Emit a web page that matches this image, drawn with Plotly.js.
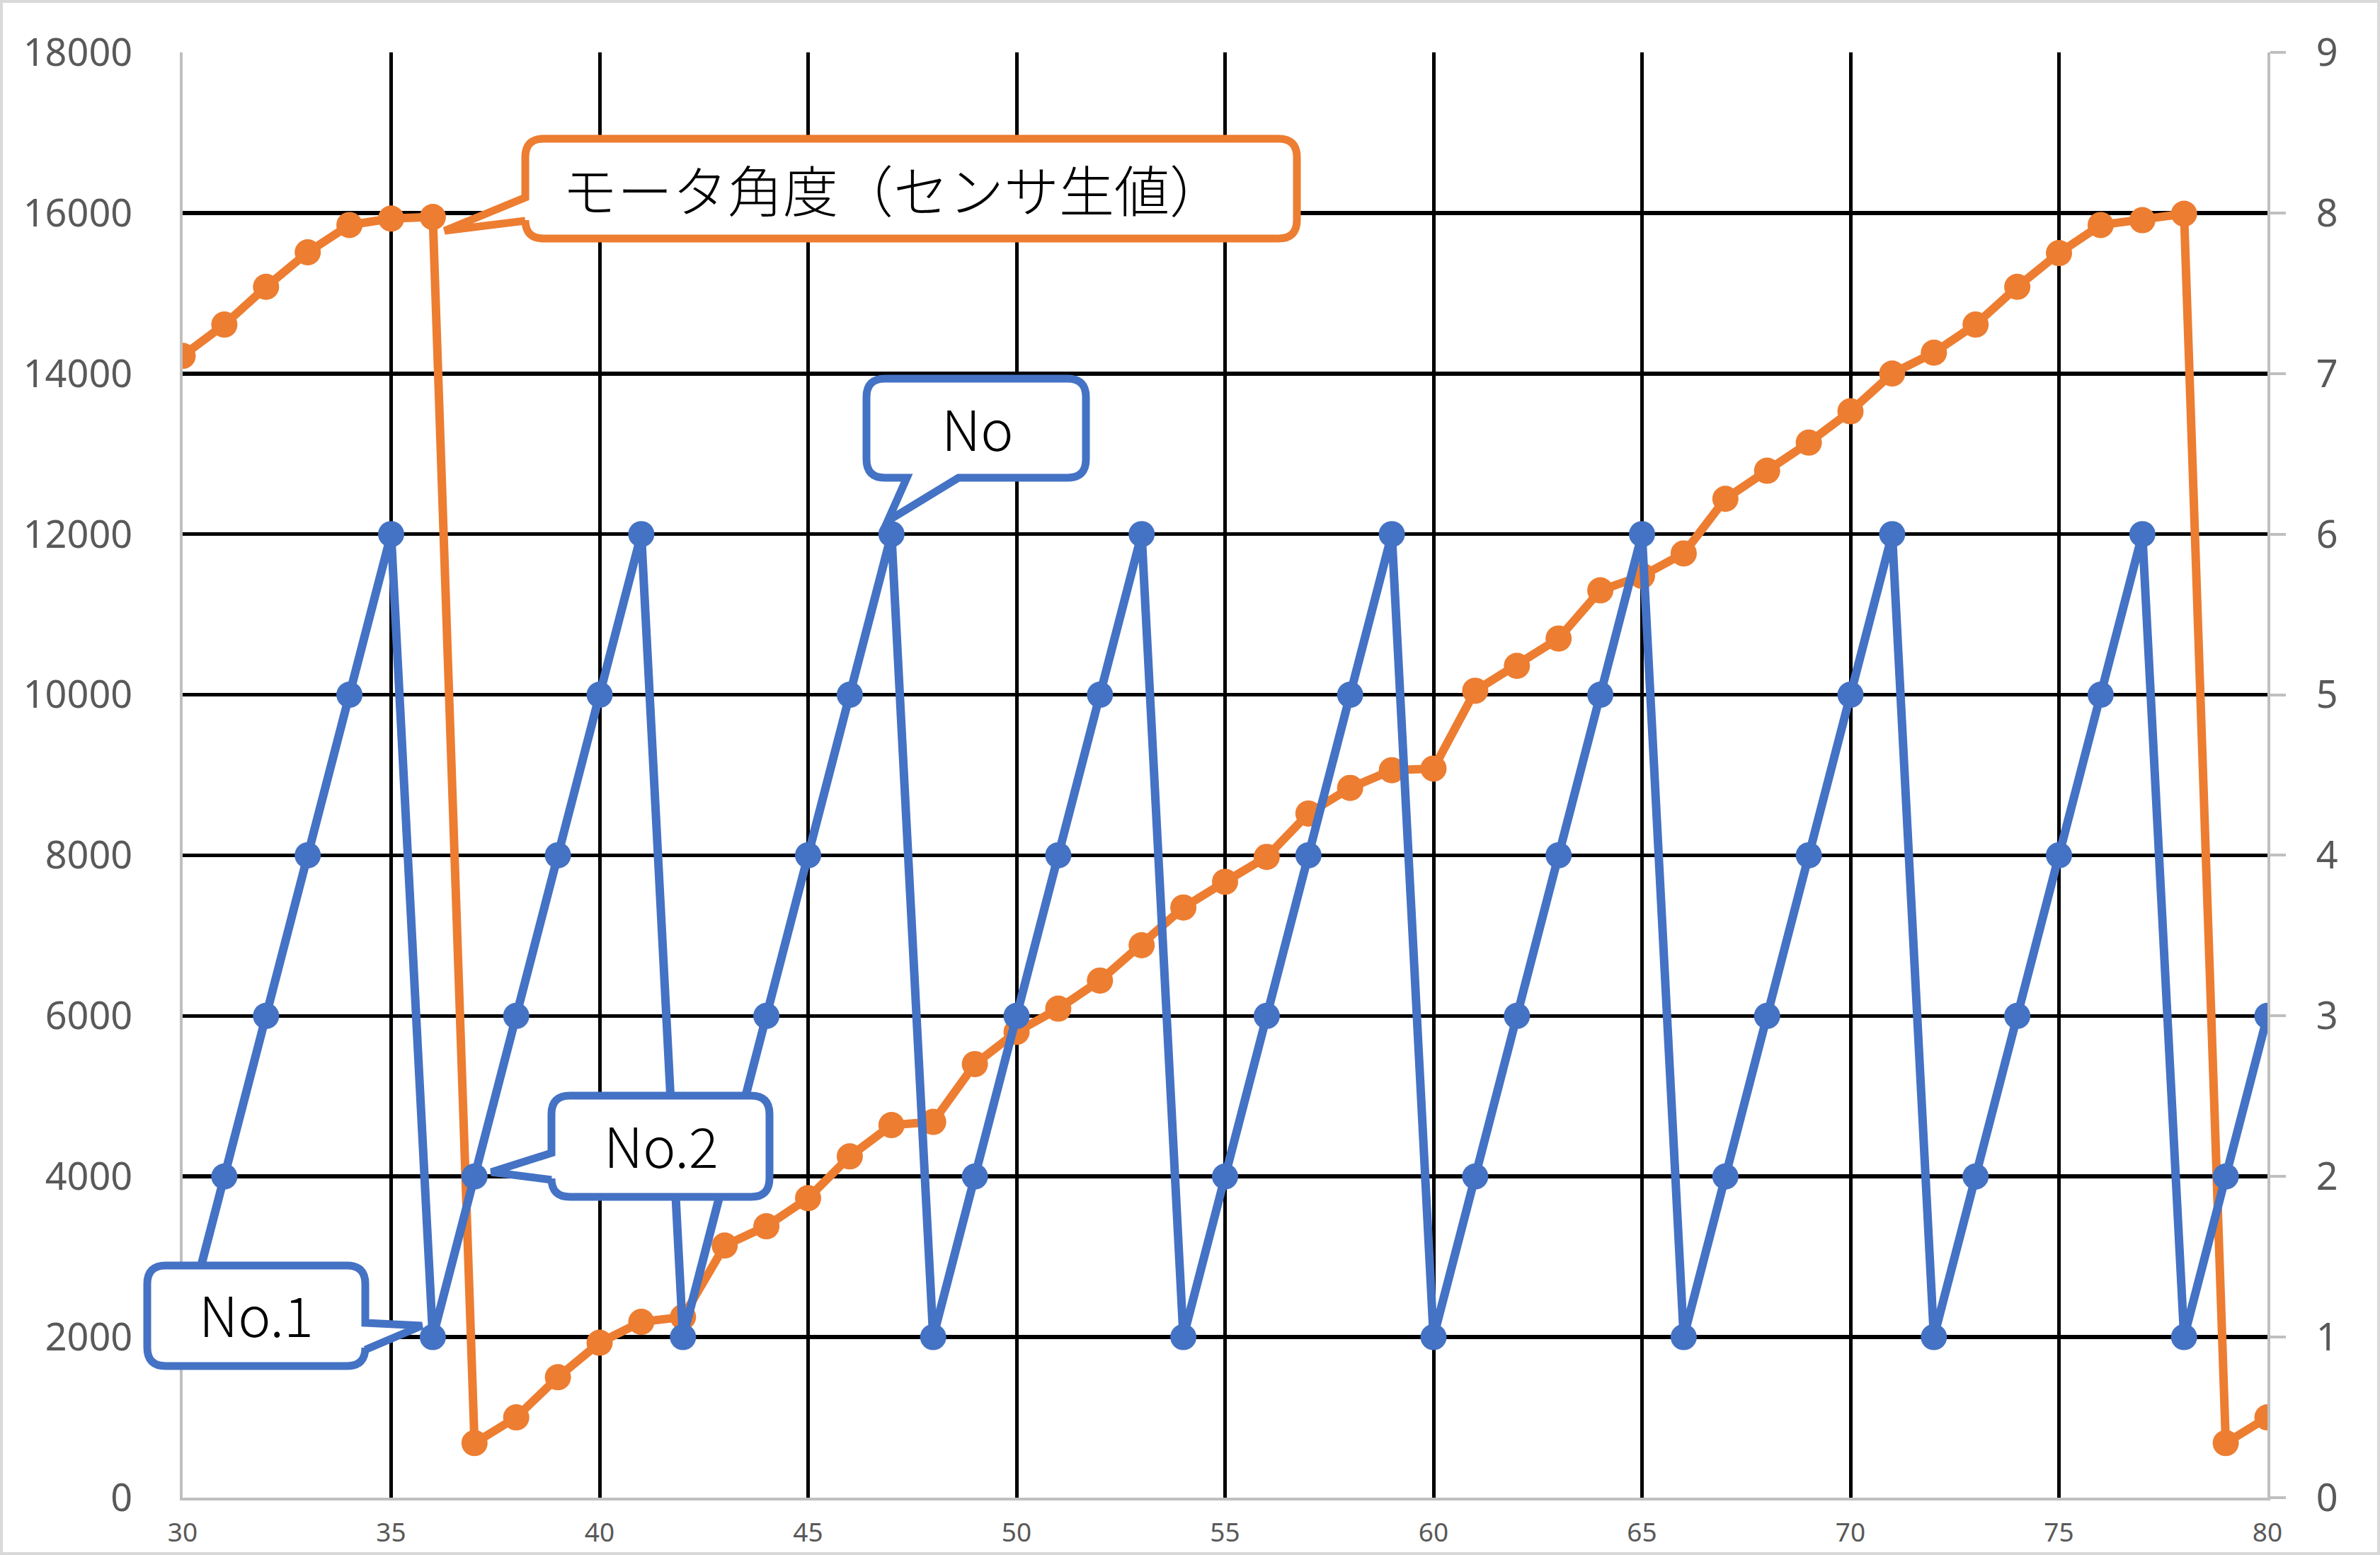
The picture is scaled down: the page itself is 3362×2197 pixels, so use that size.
<!DOCTYPE html>
<html>
<head>
<meta charset="utf-8">
<script src="https://cdn.plot.ly/plotly-3.0.1.min.js"></script>
<style>
  html, body { margin: 0; padding: 0; background: #ffffff; }
  #chart { width: 3362px; height: 2197px; }
</style>
</head>
<body>
<div id="chart"></div>
<script>
// ---------- data ----------
const xValues = [30,31,32,33,34,35,36,37,38,39,40,41,42,43,44,45,46,47,48,49,50,51,52,53,54,55,56,57,58,59,60,61,62,63,64,65,66,67,68,69,70,71,72,73,74,75,76,77,78,79,80];
const motorAngle = [14220,14610,15080,15510,15850,15930,15950,
  680,1000,1500,1930,2190,2250,3140,3380,3730,4250,
  4640,4680,5400,5800,6090,6440,6880,7350,7670,7980,
  8520,8840,9060,9080,10050,10360,10700,11300,11480,11760,
  12440,12790,13140,13530,14000,14260,14610,15080,15500,15850,
  15910,15990,680,1000];
const noValues = [1,2,3,4,5,6, 1,2,3,4,5,6, 1,2,3,4,5,6, 1,2,3,4,5,6,
  1,2,3,4,5,6, 1,2,3,4,5,6, 1,2,3,4,5,6, 1,2,3,4,5,6, 1,2,3];
const leftTicks = [0,2000,4000,6000,8000,10000,12000,14000,16000,18000];
const rightTicks = [0,1,2,3,4,5,6,7,8,9];
const xTicks = [30,35,40,45,50,55,60,65,70,75,80];
const labelMotor = 'モータ角度（センサ生値）';
const labelNo = 'No';
const labelNo1 = 'No.1';
const labelNo2 = 'No.2';

// ---------- layout geometry (pixels) ----------
const W = 3362, H = 2197;
const M = { l: 258, r: 159, t: 74, b: 81 };
const PW = W - M.l - M.r, PH = H - M.t - M.b;
const px = x => (x - M.l) / PW;
const py = y => (H - M.b - y) / PH;

function callout(x0, y0, x1, y1, r, tail) {
  const pts = [];
  const cmd = (c, ...xy) => {
    let s = c;
    for (let i = 0; i < xy.length; i += 2) s += (i ? ' ' : '') + px(xy[i]).toFixed(5) + ',' + py(xy[i + 1]).toFixed(5);
    pts.push(s);
  };
  cmd('M', x0 + r, y0);
  cmd('L', x1 - r, y0);
  cmd('Q', x1, y0, x1, y0 + r);
  if (tail.side === 'right') { cmd('L', x1, tail.a); cmd('L', tail.tip[0], tail.tip[1]); cmd('L', x1, tail.b); }
  cmd('L', x1, y1 - r);
  cmd('Q', x1, y1, x1 - r, y1);
  if (tail.side === 'bottom') { cmd('L', tail.b, y1); cmd('L', tail.tip[0], tail.tip[1]); cmd('L', tail.a, y1); }
  cmd('L', x0 + r, y1);
  cmd('Q', x0, y1, x0, y1 - r);
  if (tail.side === 'left') { cmd('L', x0, tail.b); cmd('L', tail.tip[0], tail.tip[1]); cmd('L', x0, tail.a); }
  cmd('L', x0, y0 + r);
  cmd('Q', x0, y0, x0 + r, y0);
  pts.push('Z');
  return pts.join(' ');
}

const ORANGE = '#ED7D31', BLUE = '#4472C4';
const callouts = [
  { box: [742, 196, 1832, 337], color: ORANGE, tail: { side: 'left', a: 279, b: 312, tip: [628, 326] }, text: labelMotor, tx: 1262, ty: 266 },
  { box: [1224, 535, 1534, 675], color: BLUE, tail: { side: 'bottom', a: 1281, b: 1354, tip: [1254, 736] }, text: labelNo, tx: 1380, ty: 603 },
  { box: [779, 1548, 1087, 1691], color: BLUE, tail: { side: 'left', a: 1629, b: 1667, tip: [694, 1656] }, text: labelNo2, tx: 934, ty: 1616 },
  { box: [208, 1788, 516, 1930], color: BLUE, tail: { side: 'right', a: 1869, b: 1907, tip: [596, 1873] }, text: labelNo1, tx: 362, ty: 1855 }
];

const shapes = [
  { type: 'rect', xref: 'paper', yref: 'paper', x0: px(2), x1: px(W - 2), y0: py(2), y1: py(H - 2),
    line: { color: '#d9d9d9', width: 4 }, fillcolor: 'rgba(0,0,0,0)', layer: 'below' }
];
const annotations = [];
callouts.forEach(c => {
  shapes.push({ type: 'path', xref: 'paper', yref: 'paper', layer: 'above',
    path: callout(c.box[0], c.box[1], c.box[2], c.box[3], 26, c.tail),
    fillcolor: '#ffffff', line: { color: c.color, width: 11 } });
  annotations.push({ xref: 'paper', yref: 'paper', x: px(c.tx), y: py(c.ty), xanchor: 'center', yanchor: 'middle',
    text: c.text, showarrow: false,
    font: { family: 'Noto Sans CJK JP, Noto Sans, sans-serif', size: 78, color: '#000000', weight: 300 } });
});

const traces = [
  { x: xValues, y: motorAngle, type: 'scatter', mode: 'lines+markers', name: labelMotor, yaxis: 'y',
    line: { color: ORANGE, width: 12 }, marker: { color: ORANGE, size: 37 } },
  { x: xValues, y: noValues, type: 'scatter', mode: 'lines+markers', name: labelNo, yaxis: 'y2',
    line: { color: BLUE, width: 12 }, marker: { color: BLUE, size: 37 } }
];

const tickFont = { family: 'Noto Sans, sans-serif', color: '#595959' };
const layout = {
  width: W, height: H,
  margin: M,
  paper_bgcolor: '#ffffff', plot_bgcolor: '#ffffff',
  showlegend: false,
  xaxis: { range: [30, 80], tickvals: xTicks, ticktext: xTicks.map(String), showgrid: true, gridcolor: '#000000', gridwidth: 5,
    showline: true, linecolor: '#bfbfbf', linewidth: 4, zeroline: false, ticks: '',
    tickfont: Object.assign({ size: 37 }, tickFont), ticklabelstandoff: 14 },
  yaxis: { range: [0, 18000], tickvals: leftTicks, ticktext: leftTicks.map(String), showgrid: true, gridcolor: '#000000', gridwidth: 5.5,
    showline: true, linecolor: '#bfbfbf', linewidth: 4, zeroline: false, ticks: '',
    tickfont: Object.assign({ size: 54 }, tickFont), ticklabelstandoff: 56 },
  yaxis2: { range: [0, 9], tickvals: rightTicks, ticktext: rightTicks.map(String), overlaying: 'y', side: 'right', showgrid: false,
    showline: true, linecolor: '#bfbfbf', linewidth: 4, zeroline: false, ticks: 'outside', ticklen: 22, tickwidth: 4, tickcolor: '#bfbfbf',
    tickfont: Object.assign({ size: 54 }, tickFont), ticklabelstandoff: 32 },
  shapes: shapes,
  annotations: annotations
};

Plotly.newPlot('chart', traces, layout, { displayModeBar: false, staticPlot: true });
</script>
</body>
</html>
